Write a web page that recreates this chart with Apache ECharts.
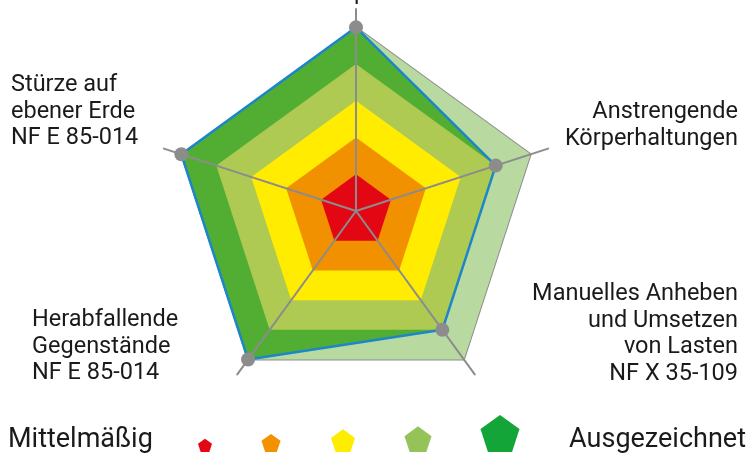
<!DOCTYPE html>
<html>
<head>
<meta charset="utf-8">
<script src="https://cdn.jsdelivr.net/npm/echarts@6/dist/echarts.min.js"></script>
<style>
html,body{margin:0;padding:0;background:#fff;}
#chart{width:752px;height:457px;}
</style>
</head>
<body>
<div id="chart"></div>
<script>
// Indicators, counter-clockwise from the top
const indicatorNames = [
  'Stolpern',
  'Stürze auf\nebener Erde\nNF E 85-014',
  'Herabfallende\nGegenstände\nNF E 85-014',
  'Manuelles Anheben\nund Umsetzen\nvon Lasten\nNF X 35-109',
  'Anstrengende\nKörperhaltungen'
];
const scoreValues = [1.0, 1.0, 1.0, 0.8, 0.8];
const fullValues = [1, 1, 1, 1, 1];
const bandLevels = [0.8, 0.6, 0.4, 0.2];
const bandColors = ['#AFCA53', '#FFEC00', '#F29100', '#E30613'];
const legendLabels = ['Mittelmäßig', 'Ausgezeichnet'];
const legendColors = ['#E30613', '#F39200', '#FFED00', '#95C35A', '#13A538'];
const legendSizes = [14, 19, 24, 27, 39];

const chart = echarts.init(document.getElementById('chart'), null, {renderer: 'canvas'});
const FONT = 'Roboto';
const GREY = '#8C8C8C';

const series = [];
series.push({
  type: 'radar', z: 1, silent: true, symbol: 'none',
  lineStyle: {color: GREY, width: 2},
  areaStyle: {color: '#B8D9A0', opacity: 1},
  data: [{value: fullValues}]
});
series.push({
  type: 'radar', z: 2, silent: true, symbol: 'none',
  lineStyle: {width: 0},
  areaStyle: {color: '#52AE32', opacity: 1},
  data: [{value: scoreValues}]
});
bandLevels.forEach((lv, i) => {
  series.push({
    type: 'radar', z: 3 + i, silent: true, symbol: 'none',
    lineStyle: {width: 0},
    areaStyle: {color: bandColors[i], opacity: 1},
    data: [{value: indicatorNames.map(() => lv)}]
  });
});
series.push({
  type: 'radar', z: 10, silent: true,
  symbol: 'circle', symbolSize: 14,
  itemStyle: {color: GREY},
  lineStyle: {color: '#1B87C9', width: 2.5},
  data: [{value: scoreValues}]
});

// label placement (text layout only)
const labelLayout = [
  {x: 357, y: 6, align: 'center', va: 'bottom'},
  {x: 11, y: 72, align: 'left', va: 'top'},
  {x: 32, y: 307, align: 'left', va: 'top'},
  {x: 738, y: 281, align: 'right', va: 'top'},
  {x: 738, y: 99, align: 'right', va: 'top'}
];
const graphics = indicatorNames.map((n, i) => ({
  type: 'text', x: labelLayout[i].x, y: labelLayout[i].y,
  style: {
    text: n, fontFamily: FONT, fontSize: 23.5, lineHeight: 26.5,
    fill: '#1a1a1a', align: labelLayout[i].align, verticalAlign: labelLayout[i].va
  }
}));
graphics.push({type: 'text', x: 8, y: 440,
  style: {text: legendLabels[0], fontFamily: FONT, fontSize: 27, fill: '#1a1a1a', align: 'left', verticalAlign: 'middle'}});
graphics.push({type: 'text', x: 746, y: 440,
  style: {text: legendLabels[1], fontFamily: FONT, fontSize: 27, fill: '#1a1a1a', align: 'right', verticalAlign: 'middle'}});
const legendCenters = [205, 271, 343, 418, 500];
function pentagon(cx, bottom, w) {
  const r = w / (2 * Math.sin(2 * Math.PI / 5));
  const h = r * (1 + Math.cos(Math.PI / 5));
  const cy = bottom - h + r;
  const pts = [];
  for (let k = 0; k < 5; k++) {
    const a = -Math.PI / 2 + k * 2 * Math.PI / 5;
    pts.push([cx + r * Math.cos(a), cy + r * Math.sin(a)]);
  }
  return pts;
}
legendColors.forEach((c, i) => {
  graphics.push({type: 'polygon', shape: {points: pentagon(legendCenters[i], 452, legendSizes[i])}, style: {fill: c}});
});

chart.setOption({
  backgroundColor: '#fff',
  animation: false,
  radar: {
    z: 8,
    center: [356, 211],
    radius: 202,
    startAngle: 90,
    shape: 'polygon',
    splitNumber: 5,
    indicator: indicatorNames.map(n => ({name: n, min: 0, max: 1.1})),
    axisName: {show: false},
    splitLine: {show: false},
    splitArea: {show: false},
    axisLine: {lineStyle: {color: GREY, width: 2}},
    axisTick: {show: false},
    axisLabel: {show: false}
  },
  series: series,
  graphic: graphics
});
</script>
</body>
</html>
